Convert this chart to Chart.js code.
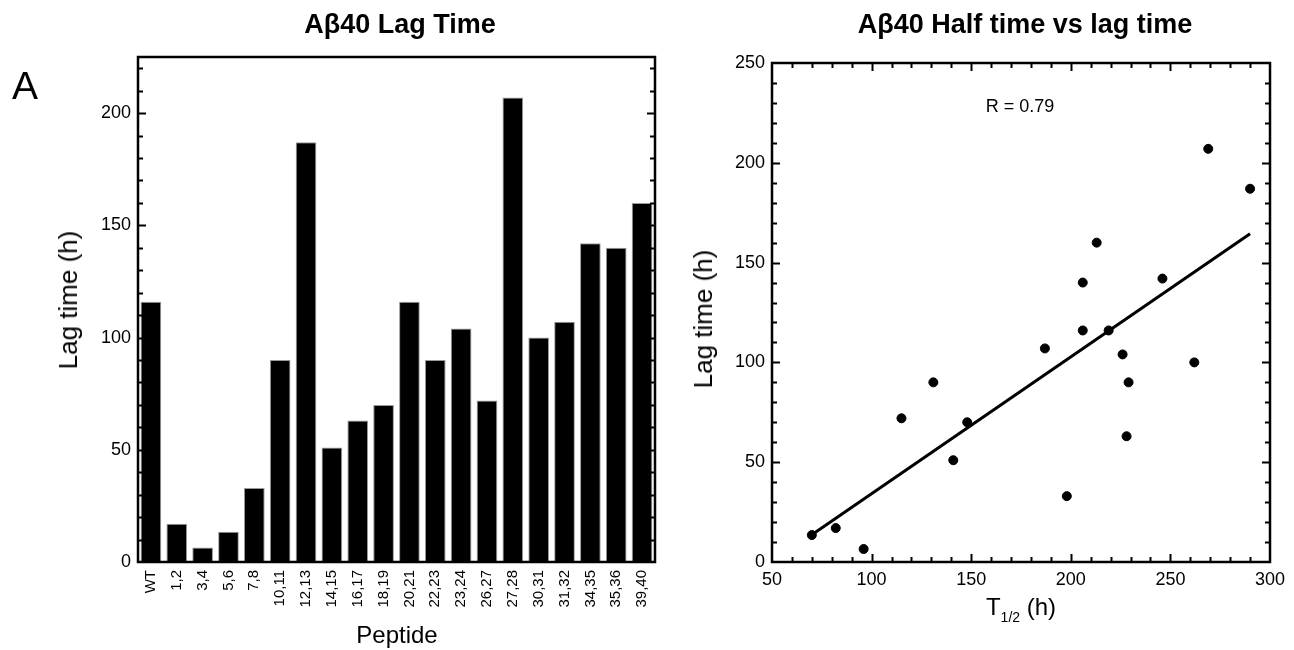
<!DOCTYPE html>
<html>
<head>
<meta charset="utf-8">
<script src="https://cdn.jsdelivr.net/npm/chart.js@4.4.1/dist/chart.umd.min.js"></script>
<style>
  html, body { margin: 0; padding: 0; background: #fff; }
  #wrap { position: relative; width: 1294px; height: 650px; overflow: hidden; }
  canvas { position: absolute; top: 0; }
  .lbl { position: absolute; line-height: 1; white-space: nowrap; color: #000;
         font-family: 'Liberation Sans', Arial, Helvetica, sans-serif; }
  .c { transform: translateX(-50%); }
  .rot { transform: translate(-50%, -50%) rotate(-90deg); }
  .title { font-weight: bold; font-size: 27px; }
  sub { font-size: 14px; vertical-align: -7px; line-height: 0; }
</style>
</head>
<body>
<div id="wrap">
  <canvas id="chartLag" width="700" height="650" style="left:0"></canvas>
  <canvas id="chartHalf" width="594" height="650" style="left:700px"></canvas>

  <div class="lbl" style="left:12px; top:66px; font-size:39px;">A</div>
  <div class="lbl c title" style="left:400px; top:11px;">Aβ40 Lag Time</div>
  <div class="lbl c title" style="left:1025px; top:11px;">Aβ40 Half time vs lag time</div>

  <div class="lbl rot" style="left:68px; top:300px; font-size:26px;">Lag time (h)</div>
  <div class="lbl c" style="left:397px; top:623px; font-size:24px;">Peptide</div>

  <div class="lbl rot" style="left:703px; top:319px; font-size:26px;">Lag time (h)</div>
  <div class="lbl c" style="left:1021px; top:595px; font-size:24px;">T<sub>1/2</sub> (h)</div>
  <div class="lbl c" style="left:1020px; top:97px; font-size:18px;">R = 0.79</div>
</div>

<script>
// peptide variants and their measured lag times (h)
const peptides = ['WT', '1,2', '3,4', '5,6', '7,8', '10,11', '12,13', '14,15', '16,17', '18,19',
                  '20,21', '22,23', '23,24', '26,27', '27,28', '30,31', '31,32', '34,35', '35,36', '39,40'];
const lagTimes = [116, 17, 6.5, 13.5, 33, 90, 187, 51, 63, 70,
                  116, 90, 104, 72, 207, 100, 107, 142, 140, 160];
// half times (h), same order as peptides
const halfTimes = [219, 82, 96, 70, 198, 229, 290, 141, 228, 148,
                   206, 131, 226, 115, 269, 262, 187, 246, 206, 213];

// linear fit, end points
const fitX = [70, 290];
const fitY = [13.6, 164.5];

const lagTicks = [0, 50, 100, 150, 200];
const halfXTicks = [50, 100, 150, 200, 250, 300];
const halfYTicks = [0, 50, 100, 150, 200, 250];

Chart.defaults.font.family = "'Liberation Sans', Arial, Helvetica, sans-serif";
Chart.defaults.color = '#000';

// box around the plot area plus inward tick marks on every side
const frameTicks = {
  id: 'frameTicks',
  afterDraw(chart, args, opts) {
    const { ctx, chartArea: a, scales } = chart;
    ctx.save();
    ctx.strokeStyle = '#000';
    ctx.lineWidth = 2;
    const seg = (x1, y1, x2, y2) => { ctx.beginPath(); ctx.moveTo(x1, y1); ctx.lineTo(x2, y2); ctx.stroke(); };

    if (opts.y) {
      const { min, max, minor, major } = opts.y;
      for (let v = min + minor; v < max; v += minor) {
        const py = Math.round(scales.y.getPixelForValue(v)) + 0.5;
        const len = v % major === 0 ? 8 : 5;
        seg(a.left, py, a.left + len, py);
        seg(a.right, py, a.right - len, py);
      }
    }
    if (opts.x) {
      const { min, max, minor, major } = opts.x;
      for (let v = min + minor; v < max; v += minor) {
        const px = Math.round(scales.x.getPixelForValue(v)) + 0.5;
        const len = v % major === 0 ? 8 : 5;
        seg(px, a.bottom, px, a.bottom - len);
        seg(px, a.top, px, a.top + len);
      }
    }

    ctx.lineWidth = 2.5;
    ctx.strokeRect(a.left, a.top, a.right - a.left, a.bottom - a.top);
    ctx.restore();
  }
};

const hidden = { grid: { display: false, drawTicks: false }, border: { display: false } };

new Chart(document.getElementById('chartLag').getContext('2d'), {
  type: 'bar',
  data: {
    labels: peptides,
    datasets: [{
      data: lagTimes,
      backgroundColor: '#000',
      borderColor: '#9a9a9a',
      borderWidth: 1,
      barPercentage: 0.8,
      categoryPercentage: 1
    }]
  },
  options: {
    responsive: false,
    animation: false,
    layout: { padding: { left: 88, right: 45, top: 57, bottom: 8 } },
    plugins: {
      legend: { display: false },
      tooltip: { enabled: false },
      frameTicks: { y: { min: 0, max: 225, minor: 10, major: 50 } }
    },
    scales: {
      x: {
        ...hidden,
        offset: true,
        ticks: { autoSkip: false, maxRotation: 90, minRotation: 90, padding: 8, font: { size: 15 } },
        afterFit(s) { s.height = 80; }
      },
      y: {
        ...hidden,
        min: 0,
        max: 225,
        ticks: { padding: 7, font: { size: 18 } },
        afterBuildTicks(s) { s.ticks = lagTicks.map(v => ({ value: v })); },
        afterFit(s) { s.width = 50; }
      }
    }
  },
  plugins: [frameTicks]
});

new Chart(document.getElementById('chartHalf').getContext('2d'), {
  type: 'scatter',
  data: {
    datasets: [{
      data: fitX.map((x, i) => ({ x: x, y: fitY[i] })),
      showLine: true,
      borderColor: '#000',
      borderWidth: 3,
      pointRadius: 0
    }, {
      data: halfTimes.map((t, i) => ({ x: t, y: lagTimes[i] })),
      backgroundColor: '#000',
      borderColor: '#000',
      pointRadius: 4.5
    }]
  },
  options: {
    responsive: false,
    animation: false,
    layout: { padding: { left: 22, right: 24, top: 63, bottom: 48 } },
    plugins: {
      legend: { display: false },
      tooltip: { enabled: false },
      frameTicks: {
        x: { min: 50, max: 300, minor: 10, major: 50 },
        y: { min: 0, max: 250, minor: 10, major: 50 }
      }
    },
    scales: {
      x: {
        ...hidden,
        min: 50,
        max: 300,
        ticks: { padding: 7, font: { size: 18 } },
        afterBuildTicks(s) { s.ticks = halfXTicks.map(v => ({ value: v })); },
        afterFit(s) { s.height = 40; }
      },
      y: {
        ...hidden,
        min: 0,
        max: 250,
        ticks: { padding: 7, font: { size: 18 } },
        afterBuildTicks(s) { s.ticks = halfYTicks.map(v => ({ value: v })); },
        afterFit(s) { s.width = 50; }
      }
    }
  },
  plugins: [frameTicks]
});
</script>
</body>
</html>
